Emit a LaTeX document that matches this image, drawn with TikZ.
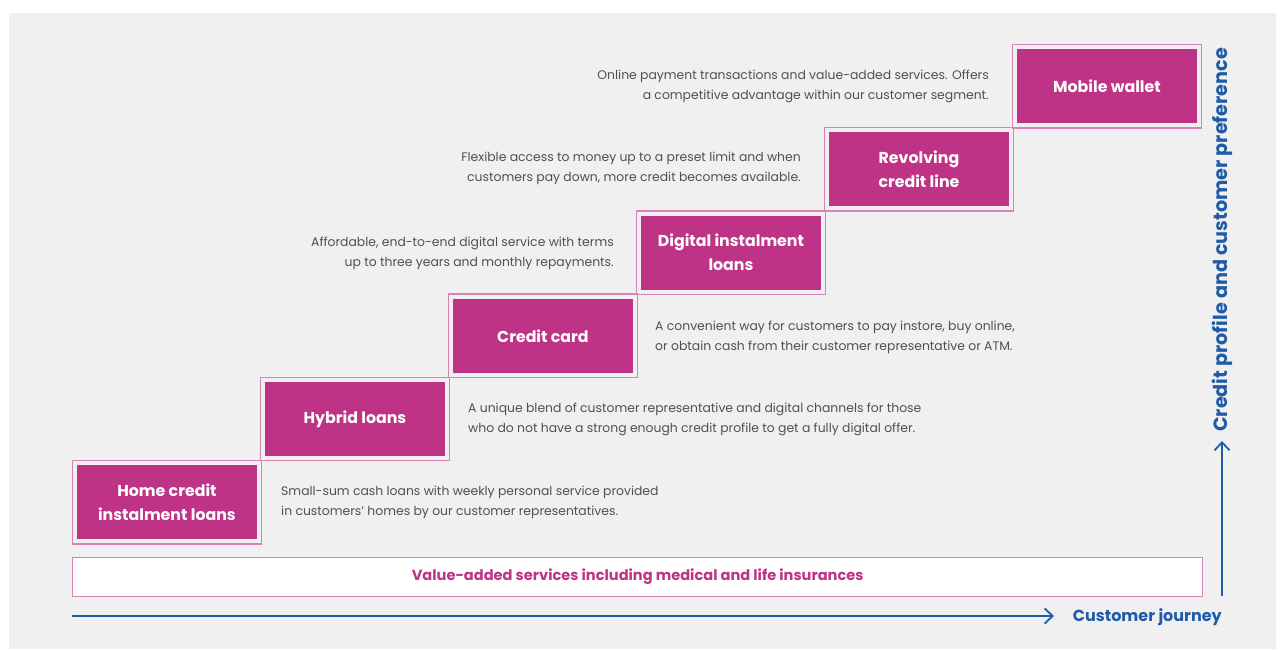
\documentclass[tikz,border=0pt]{standalone}
\usepackage{fontspec}
\setmainfont{Poppins}
\usetikzlibrary{arrows.meta}
\definecolor{bg}{HTML}{F0F0F0}
\definecolor{mag}{HTML}{BE3385}
\definecolor{pinkline}{HTML}{D982B4}
\definecolor{jblue}{HTML}{1F5BA8}
\definecolor{txt}{HTML}{505050}
\begin{document}
\begin{tikzpicture}[x=1pt,y=-1pt,
  stepbox/.style={fill=mag, minimum width=179.5pt, minimum height=74pt, anchor=north west,
    inner sep=0pt, text=white, font=\fontsize{15.8}{24}\selectfont\bfseries, align=center},
  frame/.style={draw=pinkline, line width=1.3pt},
  desc/.style={text=txt, font=\fontsize{12.4}{20}\selectfont, inner sep=0pt},
  axis/.style={draw=jblue, line width=1.8pt, -{Straight Barb[length=8pt,width=15pt]}},
  axislabel/.style={text=jblue, font=\fontsize{16}{20}\selectfont\bfseries, inner sep=0pt}
  ]
\useasboundingbox (0,0) rectangle (1284,650);
\fill[white] (0,0) rectangle (1284,650);
\fill[bg] (9,13) rectangle (1276,649);

% step boxes
\node[stepbox] (b1) at (77,465) {Home credit\\instalment loans};
\node[stepbox] (b2) at (265,381.8) {Hybrid loans};
\node[stepbox] (b3) at (453,298.6) {Credit card};
\node[stepbox] (b4) at (641,215.4) {Digital instalment\\loans};
\node[stepbox] (b5) at (829,132.2) {Revolving\\credit line};
\node[stepbox] (b6) at (1017,49) {Mobile wallet};
\foreach \b in {b1,b2,b3,b4,b5,b6}
  \draw[frame] ([shift={(-4.5pt,4.5pt)}]\b.north west) rectangle ([shift={(4.5pt,-4.5pt)}]\b.south east);

% descriptions
\node[desc, anchor=west, align=left] (d1) at (281,502)
  {Small-sum cash loans with weekly personal service provided\\in customers’ homes by our customer representatives.};
\node[desc, anchor=west, align=left] (d2) at (468,419)
  {A unique blend of customer representative and digital channels for those\\who do not have a strong enough credit profile to get a fully digital offer.};
\node[desc, anchor=west, align=left] (d3) at (655,337)
  {A convenient way for customers to pay instore, buy online,\\or obtain cash from their customer representative or ATM.};
\node[desc, anchor=east, align=right] (d4) at (614,253)
  {Affordable, end-to-end digital service with terms\\up to three years and monthly repayments.};
\node[desc, anchor=east, align=right] (d5) at (801,168)
  {Flexible access to money up to a preset limit and when\\customers pay down, more credit becomes available.};
\node[desc, anchor=east, align=right] (d6) at (989,86)
  {Online payment transactions and value-added services. Offers\\a competitive advantage within our customer segment.};

% value-added bar
\node[draw=pinkline, fill=white, line width=1.3pt, minimum width=1130pt, minimum height=39pt,
  anchor=north west, inner sep=0pt, text=mag, font=\fontsize{14.6}{18}\selectfont\bfseries] (vas) at (72,557)
  {\raisebox{-1.5pt}{Value-added services including medical and life insurances}};

% axes
\coordinate (h0) at (72,616);
\coordinate (h1) at (1054,616);
\draw[axis] (h0) -- (h1);
\node[axislabel, anchor=east] (cj) at (1222,617) {Customer journey};
\coordinate (v0) at (1222,596);
\coordinate (v1) at (1222,441);
\draw[axis] (v0) -- (v1);
\node[axislabel, font=\fontsize{19.2}{22}\selectfont\bfseries, rotate=90, anchor=west] (cp) at (1222,432)
  {Credit profile and customer preference};
\end{tikzpicture}
\end{document}
